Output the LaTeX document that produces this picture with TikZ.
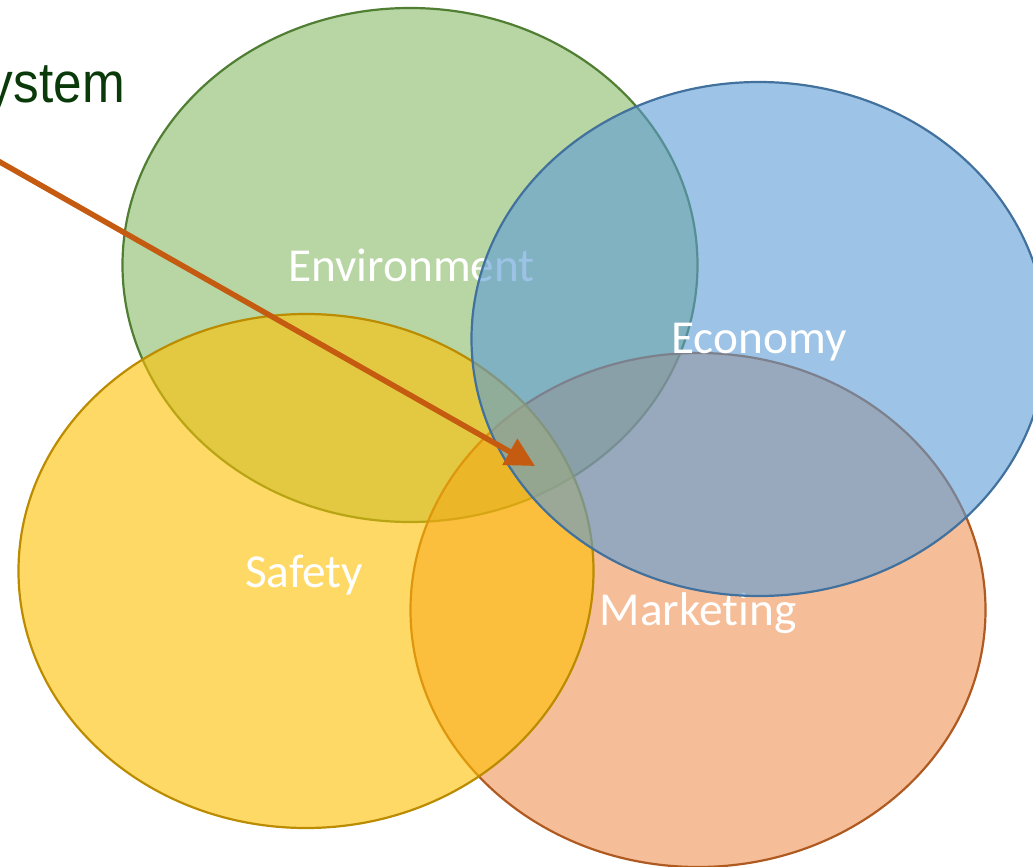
\documentclass[tikz,border=0pt]{standalone}
\usepackage{fontspec}
\setmainfont[Ligatures=NoCommon]{Carlito}
\newfontfamily\sysfont[FakeStretch=0.9]{Liberation Sans}
\usetikzlibrary{shapes.geometric,arrows.meta}
\definecolor{grfill}{HTML}{70AD47}
\definecolor{grline}{HTML}{507E32}
\definecolor{blfill}{HTML}{5B9BD5}
\definecolor{blline}{HTML}{41719C}
\definecolor{yefill}{HTML}{FFC000}
\definecolor{yeline}{HTML}{BC8C00}
\definecolor{orfill}{HTML}{ED7D31}
\definecolor{orline}{HTML}{AE5A21}
\definecolor{arrowc}{HTML}{C55A11}
\definecolor{systxt}{HTML}{0A3A0A}
\begin{document}
\begin{tikzpicture}[x=1pt,y=-1pt,
  blob/.style={ellipse, minimum width=575pt, minimum height=514pt, inner sep=0pt, line width=2.2pt},
  lbl/.style={text=white, font=\fontsize{47.3}{56}\selectfont, anchor=base, inner sep=0pt},
  pointer/.style={draw=arrowc, line width=5.5pt, -{Triangle[length=29pt,width=29pt]}}]
\useasboundingbox (0,0) rectangle (1033,867);
\clip (0,0) rectangle (1033,867);
\node[blob, draw=grline, fill=grfill, fill opacity=0.5] (env) at (410,265) {};
\node[lbl] (envlbl) at (411.5,281) {Environment};
\node[blob, draw=orline, fill=orfill, fill opacity=0.5] (mkt) at (698,610) {};
\node[blob, draw=yeline, fill=yefill, fill opacity=0.6] (saf) at (306,571) {};
\node[lbl] (saflbl) at (304,587) {Safety};
\node[lbl] (mktlbl) at (698,625) {Marketing};
\node[blob, draw=blline, fill=blfill, fill opacity=0.6] (eco) at (759,339) {};
\node[lbl] (ecolbl) at (759,353) {Economy};
\node[anchor=base east, inner sep=0pt, text=systxt, font=\sysfont\fontsize{57}{68}\selectfont] (sys) at (125,102) {System};
\coordinate (src) at (-30,145);
\coordinate (tip) at (535,466);
\draw[pointer] (src) -- (tip);
\end{tikzpicture}
\end{document}
